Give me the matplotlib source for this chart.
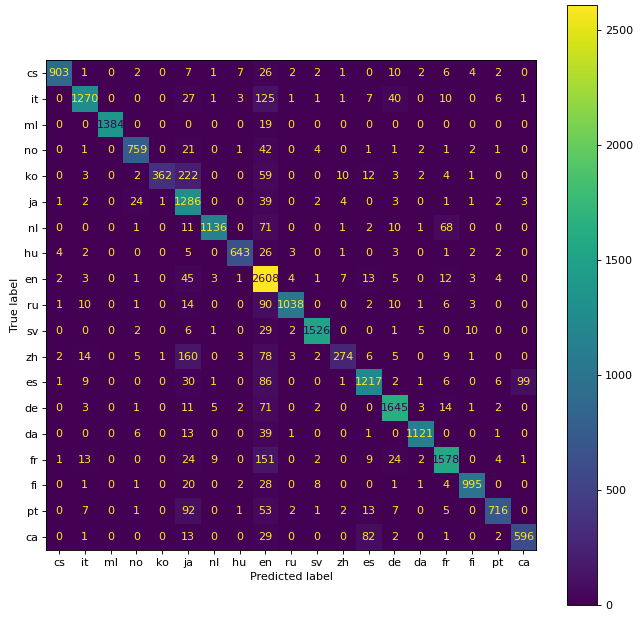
import numpy as np
import matplotlib
matplotlib.use("Agg")
import matplotlib.pyplot as plt

labels = ["cs", "it", "ml", "no", "ko", "ja", "nl", "hu", "en", "ru",
          "sv", "zh", "es", "de", "da", "fr", "fi", "pt", "ca"]

row_cs = [903, 1, 0, 2, 0, 7, 1, 7, 26, 2, 2, 1, 0, 10, 2, 6, 4, 2, 0]
row_it = [0, 1270, 0, 0, 0, 27, 1, 3, 125, 1, 1, 1, 7, 40, 0, 10, 0, 6, 1]
row_ml = [0, 0, 1384, 0, 0, 0, 0, 0, 19, 0, 0, 0, 0, 0, 0, 0, 0, 0, 0]
row_no = [0, 1, 0, 759, 0, 21, 0, 1, 42, 0, 4, 0, 1, 1, 2, 1, 2, 1, 0]
row_ko = [0, 3, 0, 2, 362, 222, 0, 0, 59, 0, 0, 10, 12, 3, 2, 4, 1, 0, 0]
row_ja = [1, 2, 0, 24, 1, 1286, 0, 0, 39, 0, 2, 4, 0, 3, 0, 1, 1, 2, 3]
row_nl = [0, 0, 0, 1, 0, 11, 1136, 0, 71, 0, 0, 1, 2, 10, 1, 68, 0, 0, 0]
row_hu = [4, 2, 0, 0, 0, 5, 0, 643, 26, 3, 0, 1, 0, 3, 0, 1, 2, 2, 0]
row_en = [2, 3, 0, 1, 0, 45, 3, 1, 2608, 4, 1, 7, 13, 5, 0, 12, 3, 4, 0]
row_ru = [1, 10, 0, 1, 0, 14, 0, 0, 90, 1038, 0, 0, 2, 10, 1, 6, 3, 0, 0]
row_sv = [0, 0, 0, 2, 0, 6, 1, 0, 29, 2, 1526, 0, 0, 1, 5, 0, 10, 0, 0]
row_zh = [2, 14, 0, 5, 1, 160, 0, 3, 78, 3, 2, 274, 6, 5, 0, 9, 1, 0, 0]
row_es = [1, 9, 0, 0, 0, 30, 1, 0, 86, 0, 0, 1, 1217, 2, 1, 6, 0, 6, 99]
row_de = [0, 3, 0, 1, 0, 11, 5, 2, 71, 0, 2, 0, 0, 1645, 3, 14, 1, 2, 0]
row_da = [0, 0, 0, 6, 0, 13, 0, 0, 39, 1, 0, 0, 1, 0, 1121, 0, 0, 1, 0]
row_fr = [1, 13, 0, 0, 0, 24, 9, 0, 151, 0, 2, 0, 9, 24, 2, 1578, 0, 4, 1]
row_fi = [0, 1, 0, 1, 0, 20, 0, 2, 28, 0, 8, 0, 0, 1, 1, 4, 995, 0, 0]
row_pt = [0, 7, 0, 1, 0, 92, 0, 1, 53, 2, 1, 2, 13, 7, 0, 5, 0, 716, 0]
row_ca = [0, 1, 0, 0, 0, 13, 0, 0, 29, 0, 0, 0, 82, 2, 0, 1, 0, 2, 596]

cm = np.array([row_cs, row_it, row_ml, row_no, row_ko, row_ja, row_nl,
               row_hu, row_en, row_ru, row_sv, row_zh, row_es, row_de,
               row_da, row_fr, row_fi, row_pt, row_ca])

# lower dpi so text and lines come out as small as in the reference
fig = plt.figure(figsize=(8.0, 7.75), dpi=80)
ax = fig.add_axes([0.072, 0.113, 0.766, 0.790])
cax = fig.add_axes([0.886, 0.024, 0.047, 0.968])

cmap = plt.get_cmap("viridis")
im = ax.imshow(cm, cmap=cmap, interpolation="nearest", aspect="auto")

# same rule as sklearn: dark text on bright cells
thresh = (cm.max() + cm.min()) / 2.0
for i in range(cm.shape[0]):
    for j in range(cm.shape[1]):
        color = cmap(0.0) if cm[i, j] >= thresh else cmap(1.0)
        ax.text(j, i, str(cm[i, j]), ha="center", va="center", color=color, fontsize=10)

n = len(labels)
ax.set_xticks(range(n))
ax.set_xticklabels(labels)
ax.set_yticks(range(n))
ax.set_yticklabels(labels)
ax.set_xlabel("Predicted label")
ax.set_ylabel("True label")

cb = fig.colorbar(im, cax=cax)
cb.set_ticks([0, 500, 1000, 1500, 2000, 2500])

fig.savefig("out.png", dpi=80)
